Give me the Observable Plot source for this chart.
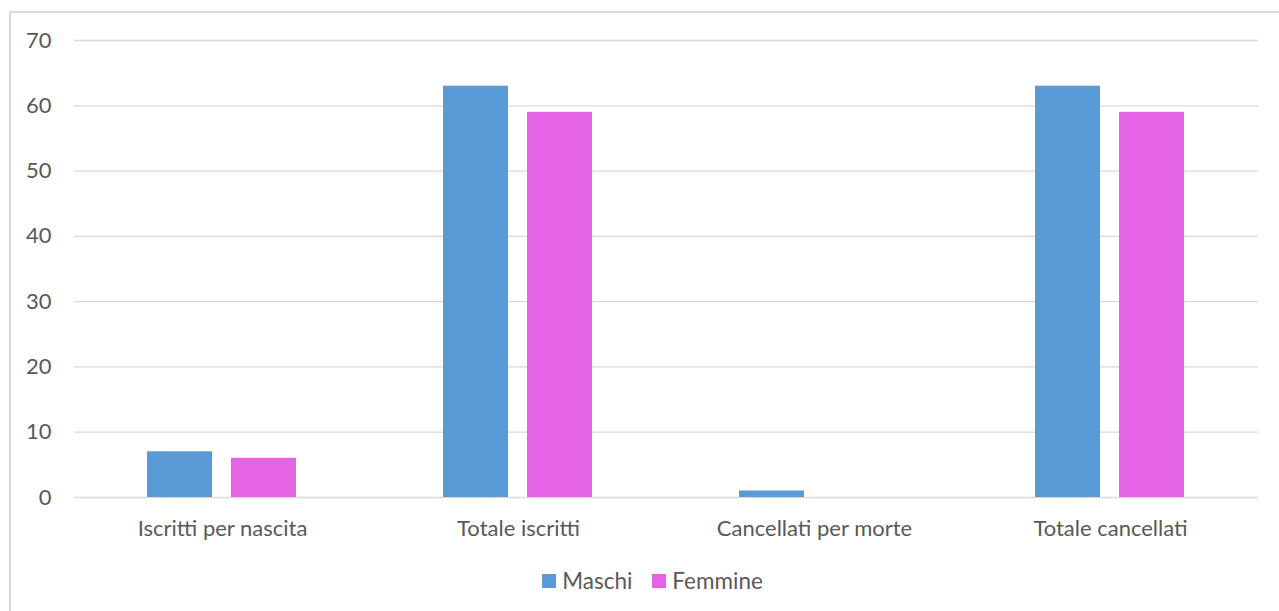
<!DOCTYPE html>
<html>
<head>
<meta charset="utf-8">
<script src="https://cdn.jsdelivr.net/npm/d3@7"></script>
<script src="https://cdn.jsdelivr.net/npm/@observablehq/plot@0.6"></script>
<style>
  html, body { margin: 0; padding: 0; background: #fff; overflow: hidden; }
  #frame { position: absolute; left: 9px; top: 11px; width: 1300px; height: 700px;
           border-left: 2px solid #d9d9d9; border-top: 2px solid #d9d9d9; box-sizing: border-box; }
  #chart { position: absolute; left: 0; top: 0; }
  #legend { position: absolute; left: 0; top: 567px; width: 1279px; display: flex; justify-content: center;
            padding-left: 26px; box-sizing: border-box; font-family: Lato, "Open Sans", sans-serif; font-size: 22.5px; line-height: 28px; color: #595959; }
  .item { display: flex; align-items: center; margin: 0 10px; }
  .sw { width: 14px; height: 14px; margin-right: 6px; }
</style>
</head>
<body>
<div id="frame"></div>
<div id="chart"></div>
<div id="legend"></div>
<script>
const categories = ["Iscritti per nascita", "Totale iscritti", "Cancellati per morte", "Totale cancellati"];
const series = ["Maschi", "Femmine"];
const maschi = [7, 63, 1, 63];
const femmine = [6, 59, 0, 59];
const yTicks = [0, 10, 20, 30, 40, 50, 60, 70];
const colors = ["#5B9BD5", "#E564E6"];

const data = [];
categories.forEach((c, i) => {
  data.push({category: c, series: "Maschi", value: maschi[i]});
  data.push({category: c, series: "Femmine", value: femmine[i]});
});

const chart = Plot.plot({
  width: 1279,
  height: 555,
  marginTop: 40,
  marginBottom: 58,
  marginLeft: 73,
  marginRight: 20,
  style: { fontFamily: "Lato, 'Open Sans', sans-serif", fontSize: "22px", color: "#595959", background: "transparent", overflow: "visible" },
  fx: { domain: categories, padding: 0, label: null, axis: "bottom", tickSize: 0, tickPadding: 23 },
  x: { domain: series, paddingInner: 0.224, paddingOuter: 0.856, axis: null },
  y: { domain: [0, 70], ticks: yTicks, tickSize: 0, tickPadding: 23, label: null },
  color: { domain: series, range: colors },
  marks: [
    Plot.ruleY(yTicks, { stroke: "#d9d9d9", strokeWidth: 1.3, strokeOpacity: 1 }),
    Plot.barY(data, { fx: "category", x: "series", y: "value", fill: "series" })
  ]
});
document.getElementById("chart").appendChild(chart);

const legend = document.getElementById("legend");
series.forEach((s, i) => {
  const item = document.createElement("div");
  item.className = "item";
  const sw = document.createElement("div");
  sw.className = "sw";
  sw.style.background = colors[i];
  const t = document.createElement("span");
  t.textContent = s;
  item.appendChild(sw);
  item.appendChild(t);
  legend.appendChild(item);
});
</script>
</body>
</html>
